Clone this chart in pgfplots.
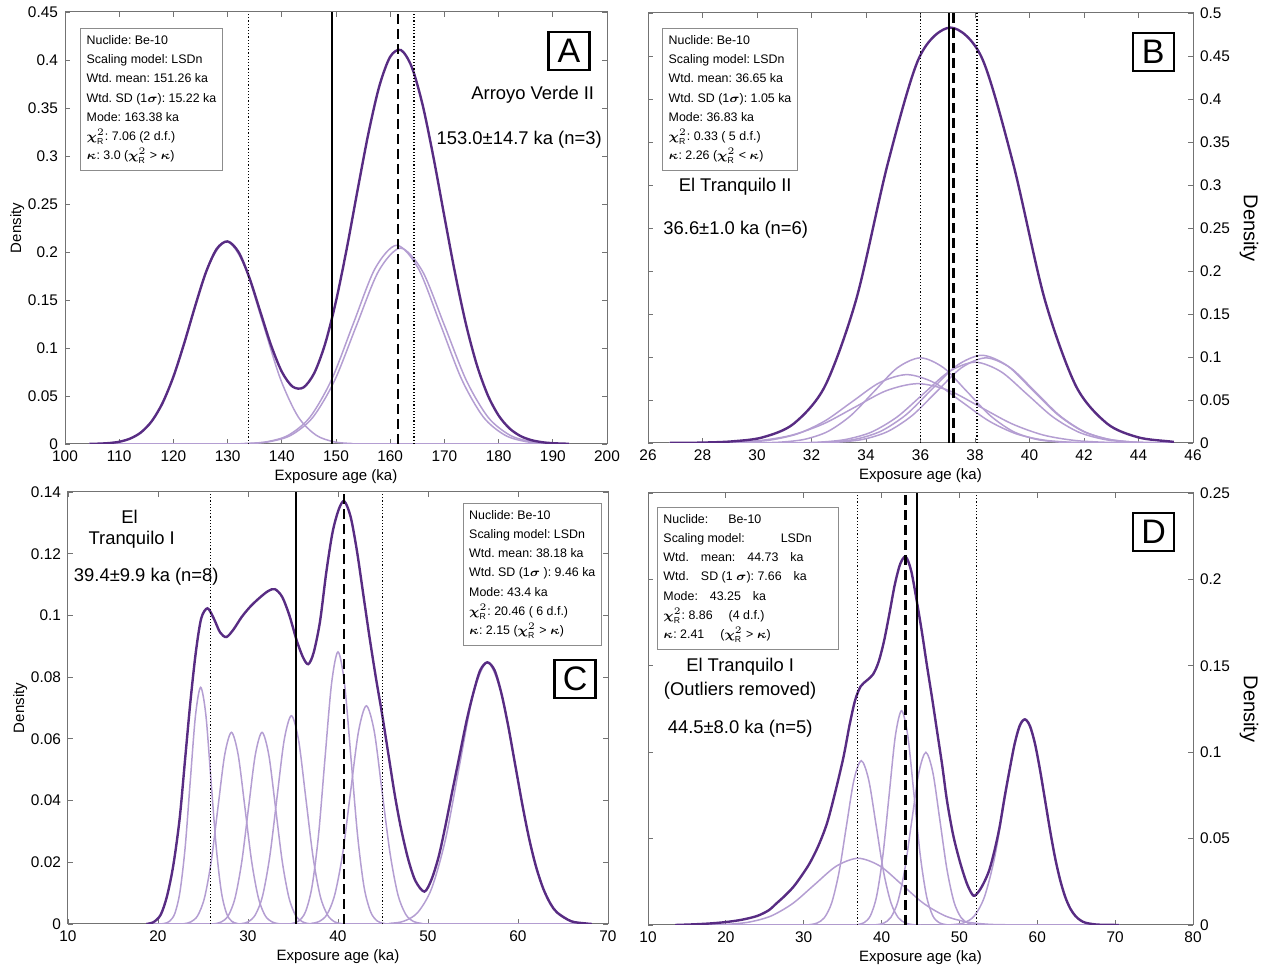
\documentclass[border=0pt]{standalone}
\usepackage{pgfplots}
\pgfplotsset{compat=1.18}
\usepackage{fontspec}
\setmainfont{Liberation Sans}
\usepackage{amsmath}
\frenchspacing

\definecolor{sumc}{RGB}{88,44,131}
\definecolor{indc}{RGB}{180,158,210}

\newcommand{\chiR}{$\boldsymbol{\chi}^{2}_{\text{R}}$}
\newcommand{\kapp}{$\boldsymbol{\kappa}$}
\newcommand{\sig}{$\boldsymbol{\sigma}$}

\pgfplotsset{
  camel/.style={
    scale only axis, anchor=south west,
    axis line style={black!55, line width=0.5pt},
    every tick/.style={black!55, line width=0.4pt},
    major tick length=2.5pt,
    tick align=inside,
    ticklabel style={font=\fontsize{7.7}{8}\selectfont, /pgf/number format/assume math mode=true},
    yticklabel style={/pgf/number format/fixed, /pgf/number format/precision=2},
    scaled y ticks=false,
    label style={font=\fontsize{7.5}{9}\selectfont},
    xlabel={Exposure age (ka)}, ylabel={Density},
    xlabel style={yshift=3pt},
  },
  leftlab/.style={ylabel style={yshift=-5pt}},
  rightlab/.style={yticklabel pos=right, ylabel near ticks, ylabel style={rotate=180, yshift=-2pt}},
  sumline/.style={sumc, line width=1.2pt, smooth},
  indline/.style={indc, line width=0.75pt, smooth},
  vdot/.style={black, line width=0.6pt, dash pattern=on 0.6pt off 1pt},
  vsolid/.style={black, line width=1pt},
  vdash/.style={black, line width=1.1pt, dash pattern=on 5pt off 2.5pt},
}
\tikzset{
  infobox/.style={draw=black!45, fill=white, line width=0.5pt, align=left, anchor=north west,
    inner xsep=3pt, inner ysep=3.5pt, font=\fontsize{6.2}{9.6}\selectfont},
  letterbox/.style={draw=black, line width=1.1pt, fill=white, minimum width=20.5pt,
    minimum height=19pt, inner sep=0pt, font=\fontsize{17}{17}\selectfont},
  bigtext/.style={font=\fontsize{9.2}{11}\selectfont, align=center},
}

\begin{document}
\begin{tikzpicture}
\useasboundingbox (0,0) rectangle (632.5pt,485pt);

%% ---------------- A ----------------
\begin{axis}[camel, leftlab, at={(32.5pt,263pt)}, width=271pt, height=216pt,
  xmin=100, xmax=200, ymin=0, ymax=0.45,
  xtick={100,110,120,130,140,150,160,170,180,190,200},
  ytick={0,0.05,0.1,0.15,0.2,0.25,0.3,0.35,0.4,0.45}]
\addplot[indline] coordinates {(104.5,0) (106.7,0.0005) (110.0,0.0023) (113.3,0.0093) (116.6,0.0285) (119.9,0.0685) (123.2,0.1280) (126.5,0.1862) (129.8,0.2110) (133.1,0.1862) (136.4,0.1280) (139.7,0.0685) (143.0,0.0285) (146.3,0.0093) (149.6,0.0023) (152.9,0.0005) (156.2,0.0001) (193,0)};
\addplot[indline] coordinates {(104.5,0) (129.2,0.0001) (133.2,0.0005) (137.2,0.0023) (141.2,0.0091) (145.2,0.0280) (149.2,0.0672) (153.2,0.1255) (157.2,0.1827) (161.2,0.2070) (165.2,0.1827) (169.2,0.1255) (173.2,0.0672) (177.2,0.0280) (181.2,0.0091) (185.2,0.0023) (189.2,0.0005) (193,0)};
\addplot[indline] coordinates {(104.5,0) (129.5,0.0001) (133.55,0.0004) (137.6,0.0023) (141.65,0.0090) (145.7,0.0276) (149.75,0.0662) (153.8,0.1237) (157.85,0.1800) (161.9,0.2040) (165.95,0.1800) (170.0,0.1237) (174.05,0.0662) (178.1,0.0276) (182.15,0.0090) (186.2,0.0023) (190.25,0.0004) (193,0)};
\addplot[sumline] coordinates {(104.5,0.0001) (106,0.0003) (108,0.0009) (110,0.0023) (112,0.0056) (114,0.0120) (116,0.0237) (118,0.0427) (120,0.0701) (122,0.1050) (124,0.1434) (126,0.1788) (128,0.2033) (130,0.2110) (132,0.2001) (134,0.1735) (136,0.1384) (138,0.1032) (140,0.0753) (142,0.0597) (144,0.0589) (146,0.0740) (148,0.1044) (150,0.1488) (152,0.2040) (154,0.2651) (156,0.3241) (158,0.3729) (160,0.4034) (162,0.4103) (164,0.3924) (166,0.3528) (168,0.2981) (170,0.2369) (172,0.1770) (174,0.1243) (176,0.0821) (178,0.0509) (180,0.0297) (182,0.0163) (184,0.0084) (186,0.0041) (188,0.0019) (190,0.0008) (193,0.0002)};
\addplot[vdot] coordinates {(133.9,0) (133.9,0.45)};
\addplot[vdot] coordinates {(164.4,0) (164.4,0.45)};
\addplot[vsolid] coordinates {(149.2,0) (149.2,0.45)};
\addplot[vdash] coordinates {(161.4,0) (161.4,0.45)};
\node[infobox] at (rel axis cs:0.028,0.963) {Nuclide: Be-10\\Scaling model: LSDn\\Wtd. mean: 151.26 ka\\Wtd. SD (1\sig): 15.22 ka\\Mode: 163.38 ka\\\chiR: 7.06 (2 d.f.)\\\kapp: 3.0 (\chiR{} > \kapp)};
\node[letterbox] at (rel axis cs:0.930,0.910) {A};
\node[bigtext] at (rel axis cs:0.863,0.808) {Arroyo Verde II};
\node[bigtext] at (rel axis cs:0.838,0.704) {153.0±14.7 ka (n=3)};
\end{axis}

%% ---------------- B ----------------
\begin{axis}[camel, rightlab, at={(324pt,263.5pt)}, width=272.5pt, height=215pt,
  xmin=26, xmax=46, ymin=0, ymax=0.5,
  xtick={26,28,30,32,34,36,38,40,42,44,46},
  ytick={0,0.05,0.1,0.15,0.2,0.25,0.3,0.35,0.4,0.45,0.5}]
\addplot[indline] coordinates {(26.8,0) (29.2,0.0000) (30.05,0.0002) (30.9,0.0011) (31.75,0.0043) (32.6,0.0134) (33.45,0.0321) (34.3,0.0600) (35.15,0.0874) (36.0,0.0990) (36.85,0.0874) (37.7,0.0600) (38.55,0.0321) (39.4,0.0134) (40.25,0.0043) (41.1,0.0011) (41.95,0.0002) (42.8,0) (45.3,0)};
\addplot[indline] coordinates {(26.8,0) (27.5,0) (28.5,0.0002) (29.5,0.0009) (30.5,0.0035) (31.5,0.0108) (32.5,0.0258) (33.5,0.0482) (34.5,0.0702) (35.5,0.0795) (36.5,0.0702) (37.5,0.0482) (38.5,0.0258) (39.5,0.0108) (40.5,0.0035) (41.5,0.0009) (42.5,0.0002) (43.5,0) (45.3,0)};
\addplot[indline] coordinates {(26.8,0) (27.85,0.0002) (29.0,0.0008) (30.15,0.0030) (31.3,0.0093) (32.45,0.0224) (33.6,0.0418) (34.75,0.0609) (35.9,0.0690) (37.05,0.0609) (38.2,0.0418) (39.35,0.0224) (40.5,0.0093) (41.65,0.0030) (42.8,0.0008) (43.95,0.0002) (45.1,0) (45.3,0)};
\addplot[indline] coordinates {(26.8,0) (30.85,0) (31.78,0.0002) (32.70,0.0011) (33.63,0.0045) (34.55,0.0138) (35.48,0.0331) (36.40,0.0619) (37.33,0.0900) (38.25,0.1020) (39.18,0.0900) (40.10,0.0619) (41.03,0.0331) (41.95,0.0138) (42.88,0.0045) (43.80,0.0011) (44.73,0.0002) (45.3,0)};
\addplot[indline] coordinates {(26.8,0) (31.2,0) (32.1,0.0002) (33.0,0.0011) (33.9,0.0043) (34.8,0.0134) (35.7,0.0321) (36.6,0.0600) (37.5,0.0874) (38.4,0.0990) (39.3,0.0874) (40.2,0.0600) (41.1,0.0321) (42.0,0.0134) (42.9,0.0043) (43.8,0.0011) (44.7,0.0002) (45.3,0)};
\addplot[indline] coordinates {(26.8,0) (30.4,0) (31.35,0.0002) (32.3,0.0010) (33.25,0.0041) (34.2,0.0127) (35.15,0.0305) (36.1,0.0570) (37.05,0.0830) (38.0,0.0940) (38.95,0.0830) (39.9,0.0570) (40.85,0.0305) (41.8,0.0127) (42.75,0.0041) (43.7,0.0010) (44.65,0.0002) (45.3,0)};
\addplot[sumline] coordinates {(26.8,0.0001) (27.9,0.0004) (29.05,0.0018) (30.2,0.0065) (31.35,0.0225) (32.5,0.0665) (33.65,0.1680) (34.8,0.3250) (35.95,0.4480) (37.1,0.4830) (38.25,0.4480) (39.4,0.3250) (40.55,0.1680) (41.7,0.0665) (42.85,0.0225) (44.0,0.0065) (45.15,0.0018) (45.3,0.0014)};
\addplot[vdot] coordinates {(35.99,0) (35.99,0.5)};
\addplot[vdot] coordinates {(38.07,0) (38.07,0.5)};
\addplot[vsolid] coordinates {(37.03,0) (37.03,0.5)};
\addplot[vdash] coordinates {(37.21,0) (37.21,0.5)};
\node[infobox] at (rel axis cs:0.026,0.965) {Nuclide: Be-10\\Scaling model: LSDn\\Wtd. mean: 36.65 ka\\Wtd. SD (1\sig): 1.05 ka\\Mode: 36.83 ka\\\chiR: 0.33 ( 5 d.f.)\\\kapp: 2.26 (\chiR{} < \kapp)};
\node[letterbox] at (rel axis cs:0.927,0.909) {B};
\node[bigtext] at (rel axis cs:0.160,0.595) {El Tranquilo II};
\node[bigtext] at (rel axis cs:0.161,0.495) {36.6±1.0 ka (n=6)};
\end{axis}

%% ---------------- C ----------------
\begin{axis}[camel, leftlab, at={(34pt,23pt)}, width=270pt, height=216pt,
  xmin=10, xmax=70, ymin=0, ymax=0.14,
  xtick={10,20,30,40,50,60,70},
  ytick={0,0.02,0.04,0.06,0.08,0.1,0.12,0.14}]
\addplot[indline] coordinates {(18.7,0) (20.14,0) (20.72,0.0002) (21.29,0.0009) (21.87,0.0034) (22.44,0.0104) (23.02,0.0249) (23.59,0.0465) (24.17,0.0677) (24.74,0.0767) (25.32,0.0677) (25.89,0.0465) (26.47,0.0249) (27.04,0.0104) (27.62,0.0034) (28.19,0.0009) (28.77,0.0002) (29.34,0) (68.2,0)};
\addplot[indline] coordinates {(18.7,0) (22.16,0) (22.91,0.0001) (23.66,0.0007) (24.41,0.0027) (25.16,0.0084) (25.91,0.0202) (26.66,0.0377) (27.41,0.0548) (28.16,0.0621) (28.91,0.0548) (29.66,0.0377) (30.41,0.0202) (31.16,0.0084) (31.91,0.0027) (32.66,0.0007) (33.41,0.0001) (34.16,0) (68.2,0)};
\addplot[indline] coordinates {(18.7,0) (25.56,0) (26.31,0.0001) (27.06,0.0007) (27.81,0.0027) (28.56,0.0084) (29.31,0.0202) (30.06,0.0377) (30.81,0.0548) (31.56,0.0621) (32.31,0.0548) (33.06,0.0377) (33.81,0.0202) (34.56,0.0084) (35.31,0.0027) (36.06,0.0007) (36.81,0.0001) (37.56,0) (68.2,0)};
\addplot[indline] coordinates {(18.7,0) (28.42,0) (29.22,0.0001) (30.02,0.0007) (30.82,0.0030) (31.62,0.0091) (32.42,0.0219) (33.22,0.0409) (34.02,0.0596) (34.82,0.0675) (35.62,0.0596) (36.42,0.0409) (37.22,0.0219) (38.02,0.0091) (38.82,0.0030) (39.62,0.0007) (40.42,0.0001) (41.22,0) (68.2,0)};
\addplot[indline] coordinates {(18.7,0) (34.20,0) (34.93,0.0002) (35.65,0.0010) (36.38,0.0039) (37.10,0.0119) (37.83,0.0286) (38.55,0.0535) (39.28,0.0778) (40.00,0.0882) (40.73,0.0778) (41.45,0.0535) (42.18,0.0286) (42.90,0.0119) (43.63,0.0039) (44.35,0.0010) (45.08,0.0002) (45.80,0) (68.2,0)};
\addplot[indline] coordinates {(18.7,0) (36.15,0) (37.03,0.0002) (37.90,0.0008) (38.78,0.0031) (39.65,0.0096) (40.53,0.0230) (41.40,0.0429) (42.28,0.0624) (43.15,0.0707) (44.03,0.0624) (44.90,0.0429) (45.78,0.0230) (46.65,0.0096) (47.53,0.0031) (48.40,0.0008) (49.28,0.0002) (50.15,0) (68.2,0)};
\addplot[indline] coordinates {(18.7,0) (44.2,0) (45.75,0.0002) (47.3,0.0009) (48.85,0.0037) (50.4,0.0115) (51.95,0.0275) (53.5,0.0514) (55.05,0.0748) (56.6,0.0848) (58.15,0.0748) (59.7,0.0514) (61.25,0.0275) (62.8,0.0115) (64.35,0.0037) (65.9,0.0009) (67.45,0.0002) (68.2,0)};
\addplot[sumline] coordinates {(18.7,0) (19.5,0.0006) (20.3,0.003) (21.0,0.009) (21.7,0.019) (22.4,0.034) (23.0,0.053) (23.6,0.072) (24.2,0.088) (24.8,0.099) (25.5,0.1023) (26.2,0.0990) (26.9,0.0945) (27.6,0.0930) (28.4,0.0955) (29.3,0.0995) (30.3,0.1030) (31.4,0.1060) (32.3,0.1080) (33.0,0.1085) (33.8,0.1060) (34.6,0.1000) (35.4,0.0920) (36.1,0.0865) (36.7,0.0842) (37.3,0.0880) (38.0,0.0980) (38.7,0.1140) (39.4,0.1270) (40.1,0.1345) (40.7,0.1370) (41.4,0.1320) (42.1,0.1210) (42.8,0.1070) (43.5,0.0930) (44.2,0.0800) (44.9,0.0680) (45.6,0.0550) (46.3,0.0420) (47.0,0.0310) (47.8,0.0210) (48.6,0.0140) (49.6,0.0105) (50.4,0.0145) (51.2,0.0220) (51.95,0.0320) (52.7,0.0430) (53.5,0.0545) (54.3,0.0660) (55.05,0.0750) (55.8,0.0822) (56.6,0.0848) (57.4,0.0822) (58.15,0.0748) (58.9,0.0644) (59.7,0.0514) (60.5,0.0384) (61.25,0.0275) (62.0,0.0186) (62.8,0.0115) (63.6,0.0066) (64.35,0.0037) (65.9,0.0009) (67.45,0.0002) (68.2,0)};
\addplot[vdot] coordinates {(25.86,0) (25.86,0.14)};
\addplot[vdot] coordinates {(44.93,0) (44.93,0.14)};
\addplot[vsolid] coordinates {(35.38,0) (35.38,0.14)};
\addplot[vdash] coordinates {(40.67,0) (40.67,0.14)};
\node[infobox] at (rel axis cs:0.731,0.975) {Nuclide: Be-10\\Scaling model: LSDn\\Wtd. mean: 38.18 ka\\Wtd. SD (1\sig{} ): 9.46 ka\\Mode: 43.4 ka\\\chiR: 20.46 ( 6 d.f.)\\\kapp: 2.15 (\chiR{} > \kapp)};
\node[letterbox] at (rel axis cs:0.939,0.567) {C};
\node[bigtext] at (rel axis cs:0.114,0.943) {El};
\node[bigtext] at (rel axis cs:0.118,0.889) {Tranquilo I};
\node[bigtext] at (rel axis cs:0.145,0.804) {39.4±9.9 ka (n=8)};
\end{axis}

%% ---------------- D ----------------
\begin{axis}[camel, rightlab, at={(324pt,22.5pt)}, width=272.5pt, height=216pt,
  xmin=10, xmax=80, ymin=0, ymax=0.25,
  xtick={10,20,30,40,50,60,70,80},
  ytick={0,0.05,0.1,0.15,0.2,0.25}]
\addplot[indline] coordinates {(13.5,0) (14.6,0) (17.4,0.0001) (20.2,0.0004) (23.0,0.0017) (25.8,0.0052) (28.6,0.0125) (31.4,0.0234) (34.2,0.0341) (37.0,0.0386) (39.8,0.0341) (42.6,0.0234) (45.4,0.0125) (48.2,0.0052) (51.0,0.0017) (53.8,0.0004) (56.6,0.0001) (59.4,0) (70.5,0)};
\addplot[indline] coordinates {(13.5,0) (29.8,0) (30.75,0.0002) (31.7,0.0011) (32.65,0.0042) (33.6,0.0129) (34.55,0.0309) (35.5,0.0577) (36.45,0.0839) (37.4,0.0951) (38.35,0.0839) (39.3,0.0577) (40.25,0.0309) (41.2,0.0129) (42.15,0.0042) (43.1,0.0011) (44.05,0.0002) (45.0,0) (70.5,0)};
\addplot[indline] coordinates {(13.5,0) (36.17,0) (36.97,0.0003) (37.77,0.0014) (38.57,0.0054) (39.37,0.0168) (40.17,0.0403) (40.97,0.0752) (41.77,0.1094) (42.57,0.1240) (43.37,0.1094) (44.17,0.0752) (44.97,0.0403) (45.77,0.0168) (46.57,0.0054) (47.37,0.0014) (48.17,0.0003) (48.97,0) (70.5,0)};
\addplot[indline] coordinates {(13.5,0) (38.49,0) (39.39,0.0002) (40.29,0.0011) (41.19,0.0044) (42.09,0.0135) (42.99,0.0324) (43.89,0.0606) (44.79,0.0882) (45.69,0.0999) (46.59,0.0882) (47.49,0.0606) (48.39,0.0324) (49.29,0.0135) (50.19,0.0044) (51.09,0.0011) (51.99,0.0002) (52.89,0) (70.5,0)};
\addplot[indline] coordinates {(13.5,0) (48.0,0) (49.3,0.0003) (50.6,0.0013) (51.9,0.0052) (53.2,0.0161) (54.5,0.0386) (55.8,0.0722) (57.1,0.1050) (58.4,0.1190) (59.7,0.1050) (61.0,0.0722) (62.3,0.0386) (63.6,0.0161) (64.9,0.0052) (66.2,0.0013) (67.5,0.0003) (68.8,0) (70.5,0)};
\addplot[sumline] coordinates {(13.5,0) (16,0.0004) (18,0.0009) (20,0.0017) (22,0.0030) (24,0.0052) (25.5,0.0085) (26.5,0.0125) (27.6,0.0170) (28.7,0.0222) (29.8,0.0290) (30.8,0.0360) (31.9,0.0460) (33.0,0.0590) (34.0,0.0760) (35.1,0.0970) (35.9,0.1160) (36.6,0.1300) (37.3,0.1380) (38.1,0.1415) (38.9,0.1450) (39.6,0.1520) (40.3,0.1640) (41.0,0.1800) (41.7,0.1970) (42.4,0.2090) (43.1,0.2131) (43.8,0.2050) (44.5,0.1880) (45.2,0.1690) (45.8,0.1510) (46.5,0.1310) (47.1,0.1130) (47.8,0.0920) (48.4,0.0720) (49.2,0.0520) (50.1,0.0360) (51.0,0.0235) (51.8,0.0170) (52.5,0.0195) (53.2,0.0250) (53.85,0.0320) (54.5,0.0430) (55.15,0.0565) (55.8,0.0740) (56.45,0.0900) (57.1,0.1050) (57.75,0.1155) (58.4,0.1190) (59.05,0.1153) (59.7,0.1050) (60.35,0.0898) (61.0,0.0722) (61.65,0.0545) (62.3,0.0386) (62.95,0.0258) (63.6,0.0161) (64.25,0.0094) (64.9,0.0052) (65.55,0.0027) (66.2,0.0013) (67.5,0.0003) (68.8,0.0001) (70.5,0)};
\addplot[vdot] coordinates {(36.87,0) (36.87,0.25)};
\addplot[vdot] coordinates {(52.2,0) (52.2,0.25)};
\addplot[vdash] coordinates {(43.08,0) (43.08,0.25)};
\addplot[vsolid] coordinates {(44.57,0) (44.57,0.25)};
\node[infobox] at (rel axis cs:0.0165,0.968) {Nuclide:\hspace{10pt}Be-10\\Scaling model:\hspace{18pt}LSDn\\Wtd.\hspace{6pt}mean:\hspace{6pt}44.73\hspace{6pt}ka\\Wtd.\hspace{6pt}SD (1 \sig): 7.66\hspace{6pt}ka\\Mode:\hspace{6pt}43.25\hspace{6pt}ka\\\chiR: 8.86\hspace{8pt}(4 d.f.)\\\kapp: 2.41\hspace{8pt}(\chiR{} > \kapp)\hspace*{31pt}};
\node[letterbox] at (rel axis cs:0.928,0.910) {D};
\node[bigtext] at (rel axis cs:0.169,0.598) {El Tranquilo I};
\node[bigtext] at (rel axis cs:0.169,0.542) {(Outliers removed)};
\node[bigtext] at (rel axis cs:0.169,0.455) {44.5±8.0 ka (n=5)};
\end{axis}
\end{tikzpicture}
\end{document}
